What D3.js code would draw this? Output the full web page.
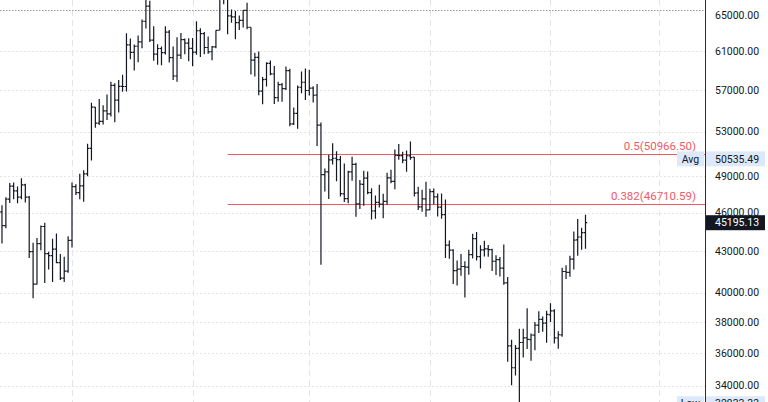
<!DOCTYPE html>
<html><head><meta charset="utf-8">
<script src="https://cdn.jsdelivr.net/npm/d3@7/dist/d3.min.js"></script>
<style>
html,body{margin:0;padding:0;background:#fff;overflow:hidden}
svg{display:block;font-family:Roboto,"Liberation Sans",Arial,sans-serif}
</style></head><body>
<script>
// ---- data (BTC/USDT daily bars) ----
const startDate = "2021-09-12";
const open  = [45161,46057,44963,47092,48176,47783,47268,48278,47260,42961,40587,43576,44895,42810,42670,43160,42147,41026,41524,
43820,48141,47634,48200,49224,51471,55315,53785,53955,54949,54659,57471,56006,57367,57347,61672,60875,61528,62005,64280,66001,62193,60688,61286,60852,63078,60328,58413,60575,62253,61859,
61299,60911,63219,62896,61396,60941,61470,63274,67525,66947,64883,64774,64122,64380,65520,63607,60059,60345,56891,58058,59707,58617,56247,57541,57138,58960,53723,54716,57274,57777,
56950,57184,56485,53601,49152,49397,50441,50588,50471,47535,47140,49389,50053,46703,48336,48864,47633,46134,46834,46681,46912,48887,48588,50839,50820,50428,50802,50680,47623,46464,47120,
46216,47722,47286,46446,45832,43451,43082,41566,41679,41864,41822,42735,43949,42592,43099,43177,43113,42250,42375,41744,40680,36445,35071,36276,36655,36950,36841,37128,37780,38166,37917,
38466,38744,36945,37149,41501,41441,42406,43855,44081,44422];
const high  = [46460,46598,47250,48450,48486,48150,48843,48372,47359,43639,44000,44978,45200,42966,43950,44350,42787,42590,44132,
48495,48336,49228,49536,51886,55750,55332,56100,55489,56561,57839,57680,58000,58532,62933,62378,61720,62695,64486,67000,66639,63732,61747,61500,63710,63293,61496,62499,62980,62359,62405,
62437,64270,63500,63086,62595,61560,63286,67789,68524,69000,65600,65450,64916,65550,66401,63617,60840,60976,58320,59845,60029,59444,57827,57700,59398,59150,55280,57445,58865,59176,
59054,57375,57600,53859,49699,50891,51936,51200,50797,50125,49485,50724,50189,48700,49500,49436,47995,47392,48300,47537,49328,49576,51375,51869,51156,51281,52088,50704,48119,47879,48548,
47954,47990,47570,47557,47070,43816,43145,42300,42786,42248,43100,44322,44459,43447,43800,43476,43179,42690,42574,43505,41100,36835,36499,37550,37545,38919,37234,38000,38720,38359,38744,
39265,38855,37387,41772,41950,42656,44500,45492,44799,45821];
const low   = [44742,43591,44750,46773,47079,46750,47088,46829,42500,39600,40565,43069,40675,41646,40750,42098,40888,40753,41410,
43283,47430,47088,46891,49022,50382,53357,53617,53661,54080,54415,53879,54800,56819,56850,60150,58963,59844,61322,63481,62000,60000,59562,59510,60650,59817,58000,57820,60174,60673,59945,
59405,60624,60382,60677,60721,60050,61322,63273,66222,62822,64100,62278,63303,63576,63400,58575,58373,56474,55600,57353,58486,55610,55837,55837,57000,53500,53610,53256,56666,56000,
56458,55777,51680,42000,47727,47100,50039,48600,47320,46852,46751,48638,45672,46290,46547,47511,45456,45500,46406,45558,46630,48422,47920,50454,50142,49412,50449,47313,46201,46060,45678,
46208,46654,45696,45502,42500,42430,40610,40501,41200,39650,41268,42450,42311,41725,42600,42578,41540,41250,41138,40553,35440,34009,34601,32933.33,35701,36234,35507,36155,37268,37351,36632,
38000,36586,36250,37026,40958,41116,41645,42666,43117,43187];
const close = [46063,44963,47092,48176,47783,47268,48278,47260,42961,40587,43576,44895,42810,42670,43160,42147,41026,41524,43824,
48141,47634,48200,49224,51471,55315,53785,53951,54949,54659,57471,56006,57367,57347,61672,60875,61528,62009,64280,66001,62193,60688,61286,60852,63078,60328,58413,60575,62253,61859,61299,
60911,63219,62896,61395,60937,61470,63273,67525,66947,64882,64774,64122,64380,65519,63607,60058,60345,56892,58052,59708,58622,56247,57541,57138,58960,53726,54721,57274,57776,56951,
57184,56480,53601,49152,49396,50441,50588,50471,47545,47140,49389,50053,46702,48343,48864,47632,46131,46834,46681,46914,48889,48588,50838,50821,50428,50809,50640,47588,46464,47120,46216,
47722,47286,46446,45832,43451,43082,41566,41679,41864,41822,42735,43949,42592,43099,43177,43113,42250,42375,41744,40680,36445,35071,36276,36655,36954,36852,37138,37785,38166,37917,38498,
38744,36952,37154,41501,41441,42412,43841,44081,44422,45195.13];

const priceTicks = [34000,36000,38000,40000,43000,46000,49000,53000,57000,61000,65000];
const fibStart = "2021-11-10";
const fibLevels = [0.5, 0.382];
const fibValues = [50966.50, 46710.59];
const avgPrice = 50535.49;
const lastPrice = 45195.13;
const lowPrice = 32933.33;
const topLinePrice = 65550;

// ---- layout ----
const W = 768, H = 402, plotR = 705;
const svg = d3.select("body").append("svg").attr("width", W).attr("height", H);
svg.append("rect").attr("width", W).attr("height", H).attr("fill", "#fff");

const parse = d3.utcParse("%Y-%m-%d");
const d0 = parse(startDate);
const dates = open.map((_, i) => d3.utcDay.offset(d0, i));
const bars = dates.map((d, i) => ({d, o: open[i], h: high[i], l: low[i], c: close[i]}));

const x = d3.scaleUtc().domain([parse("2021-10-01"), parse("2022-03-01")]).range([72, 659.4]);
const y = d3.scaleLog().domain([34000, 61000]).range([385.5, 51.2]);

svg.append("clipPath").attr("id", "clip").append("rect").attr("x", 0).attr("y", 0).attr("width", plotR).attr("height", H);
const plot = svg.append("g").attr("clip-path", "url(#clip)");

// vertical month grid
const months = d3.utcMonth.range(parse("2021-10-01"), parse("2022-03-02"));
plot.selectAll("line.vg").data(months).join("line")
  .attr("x1", d => Math.round(x(d)) + 0.5).attr("x2", d => Math.round(x(d)) + 0.5)
  .attr("y1", 0).attr("y2", H)
  .attr("stroke", "#e3e5ea").attr("stroke-width", 1).attr("stroke-dasharray", "6,4");

// horizontal price grid
plot.selectAll("line.hg").data(priceTicks.filter(p => p < 65000)).join("line")
  .attr("x1", 0).attr("x2", plotR)
  .attr("y1", d => Math.round(y(d)) + 0.5).attr("y2", d => Math.round(y(d)) + 0.5)
  .attr("stroke", "#e3e5ea").attr("stroke-width", 1).attr("stroke-dasharray", "2,2");

// top dotted line
plot.append("line").attr("x1", 0).attr("x2", plotR)
  .attr("y1", Math.round(y(topLinePrice)) + 0.5).attr("y2", Math.round(y(topLinePrice)) + 0.5)
  .attr("stroke", "#9598a1").attr("stroke-width", 1).attr("stroke-dasharray", "1.5,1.5");

// fib lines
const fx0 = x(parse(fibStart));
plot.selectAll("line.fib").data(fibValues).join("line")
  .attr("x1", fx0).attr("x2", plotR)
  .attr("y1", d => Math.round(y(d)) + 0.5).attr("y2", d => Math.round(y(d)) + 0.5)
  .attr("stroke", "#ef5a66").attr("stroke-width", 1.2);
plot.selectAll("text.fib").data(fibValues).join("text")
  .attr("x", 696).attr("y", d => y(d) - 4)
  .attr("text-anchor", "end").attr("font-size", 11.5).attr("fill", "#ef5a66")
  .text((d, i) => `${fibLevels[i]}(${d3.format(".2f")(d)})`);

// OHLC bars
const tick = 1.8;
const gb = plot.append("g").attr("stroke", "#131722").attr("stroke-width", 1.2).attr("fill", "none");
gb.selectAll("path").data(bars).join("path")
  .attr("d", b => {
    const cx = x(b.d);
    return `M${cx},${y(b.h)}V${y(b.l)}M${cx - tick},${y(b.o)}H${cx}M${cx},${y(b.c)}H${cx + tick}`;
  });

// right price axis
svg.append("line").attr("x1", plotR + 0.5).attr("x2", plotR + 0.5).attr("y1", 0).attr("y2", H)
  .attr("stroke", "#2a2e39").attr("stroke-width", 1);
const axis = d3.axisRight(y).tickValues(priceTicks).tickFormat(d3.format(".2f")).tickSize(0).tickPadding(10);
const ag = svg.append("g").attr("transform", `translate(${plotR},0)`).call(axis);
ag.select(".domain").remove();
ag.selectAll("text").attr("font-size", 10.5).attr("fill", "#131722").attr("font-family", "Roboto,'Liberation Sans',Arial,sans-serif");

// label boxes
function tagBox(price, tag, fill, txtColor) {
  const cy = y(price);
  const g = svg.append("g");
  if (tag) {
    g.append("rect").attr("x", 677).attr("y", cy - 7.5).attr("width", 27).attr("height", 15).attr("fill", fill);
    g.append("text").attr("x", 690.5).attr("y", cy).attr("dy", "0.35em").attr("text-anchor", "middle")
      .attr("font-size", 10.5).attr("fill", txtColor).text(tag);
  }
  g.append("rect").attr("x", plotR + 1).attr("y", cy - 7.5).attr("width", 59).attr("height", 15).attr("fill", fill);
  g.append("text").attr("x", 715).attr("y", cy).attr("dy", "0.35em")
    .attr("font-size", 10.5).attr("fill", tag ? txtColor : "#fff").text(d3.format(".2f")(price));
}
tagBox(avgPrice, "Avg", "#dde9fa", "#131722");
tagBox(lowPrice, "Low", "#dde9fa", "#131722");
tagBox(lastPrice, null, "#131722", "#fff");
</script>
</body></html>
